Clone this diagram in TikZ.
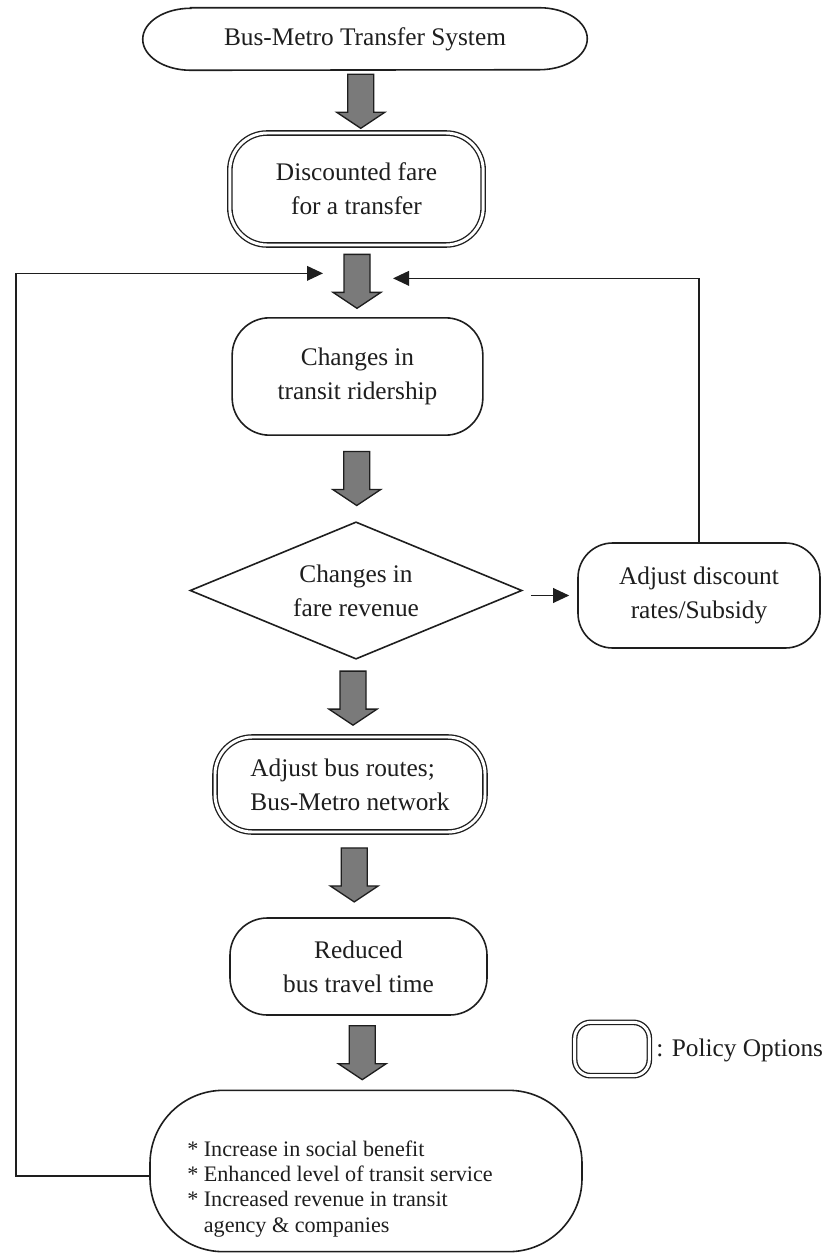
\documentclass[tikz,border=0pt]{standalone}
\usepackage{fontspec}
\setmainfont{Liberation Serif}
\usetikzlibrary{shapes.geometric,arrows.meta,calc}
\definecolor{ink}{HTML}{1E1E1E}
\definecolor{arrowgray}{HTML}{7A7A7A}
\newcommand\mainsize{\fontsize{19pt}{25.5pt}\selectfont}
\newcommand\smallsize{\fontsize{16.6pt}{18.8pt}\selectfont}
\newcommand{\fatarrow}[3]{%
  \coordinate (#3) at ($(#1)!0.5!(#2)$);
  \draw[fat] ($(#3)+(-13,-27)$) -- ($(#3)+(13,-27)$) -- ($(#3)+(13,11)$)
    -- ($(#3)+(24,11)$) -- ($(#3)+(0,27)$) -- ($(#3)+(-24,11)$)
    -- ($(#3)+(-13,11)$) -- cycle;}
\begin{document}
\begin{tikzpicture}[x=0.75pt,y=-0.75pt,
  outline/.style={draw=ink, line width=1.2pt},
  box/.style={outline, rounded corners=28pt, align=center, inner sep=0pt, font=\mainsize, text=ink},
  policy/.style={box, double, double distance=2.2pt, line width=1pt},
  fat/.style={fill=arrowgray, draw=ink, line width=1pt, line join=miter},
  conn/.style={draw=ink, line width=1.1pt, -{Triangle[length=12pt,width=11pt]}},
  plain/.style={draw=ink, line width=1.1pt}]
\useasboundingbox (0,0) rectangle (831,1255);
\fill[white] (0,0) rectangle (831,1255);

% top node with elliptical ends
\node[inner sep=0pt, minimum width=333pt, minimum height=46.5pt, font=\mainsize, text=ink] (sys) at (365,39) {Bus-Metro Transfer System};
\draw[outline] ($(sys.north west)+(48,0)$) -- ($(sys.north east)+(-48,0)$)
  arc[start angle=90,end angle=-90,x radius=36pt,y radius=23.25pt]
  -- ($(sys.south west)+(48,0)$)
  arc[start angle=270,end angle=90,x radius=36pt,y radius=23.25pt] -- cycle;

\node[policy, minimum width=190pt, minimum height=84pt] (disc) at (356.5,189) {Discounted fare\\for a transfer};
\node[box, minimum width=188pt, minimum height=88pt] (rider) at (357.5,376.5) {Changes in\\transit ridership};
\node[diamond, outline, aspect=2.42, inner sep=0pt, minimum width=249pt, minimum height=103pt, align=center, font=\mainsize, text=ink] (dia) at (356,590.5) {Changes in\\fare revenue};
\node[box, rounded corners=26pt, minimum width=181.5pt, minimum height=78.75pt] (adj) at (699,595.5) {Adjust discount\\rates/Subsidy};
\node[policy, align=left, minimum width=202.5pt, minimum height=71.25pt] (routes) at (350,784.5) {Adjust bus routes;\\Bus-Metro network};
\node[box, minimum width=192.75pt, minimum height=72.75pt] (reduced) at (358.5,966.5) {Reduced\\bus travel time};
\node[box, rounded corners=55pt, minimum width=324pt, minimum height=121pt] (bottom) at (366,1171) {};
\node[anchor=west, align=left, inner sep=0pt, font=\smallsize, text=ink] (btext) at (187,1189)
  {* Increase in social benefit\\* Enhanced level of transit service\\* Increased revenue in transit\\\hphantom{*\ }agency \& companies};

% legend
\node[policy, rounded corners=12pt, minimum width=56pt, minimum height=40pt] (leg) at (612,1049) {};
\node[anchor=west, inner sep=0pt, font=\mainsize, text=ink] (legtext) at (656,1050) {: Policy Options};

% fat arrows
\fatarrow{sys.south}{disc.north}{a1}
\fatarrow{disc.south}{rider.north}{a2}
\fatarrow{rider.south}{dia.north}{a3}
\fatarrow{dia.south}{routes.north}{a4}
\fatarrow{routes.south}{reduced.north}{a5}
\fatarrow{reduced.south}{bottom.north}{a6}

% feedback connectors
\coordinate (fbL) at ($(a2)+(-34,-8)$);
\coordinate (fbR) at ($(a2)+(36,-3)$);
\coordinate (lx) at (16,0);
\coordinate (bw) at ($(bottom.west)+(0,5)$);
\draw[conn] (bw) -- (bw -| lx) |- (fbL);
\draw[conn] (adj.north) |- (fbR);
\draw[conn] ($(dia.east |- adj.west)+(8,0)$) -- ($(adj.west)+(-8,0)$);
\end{tikzpicture}
\end{document}
